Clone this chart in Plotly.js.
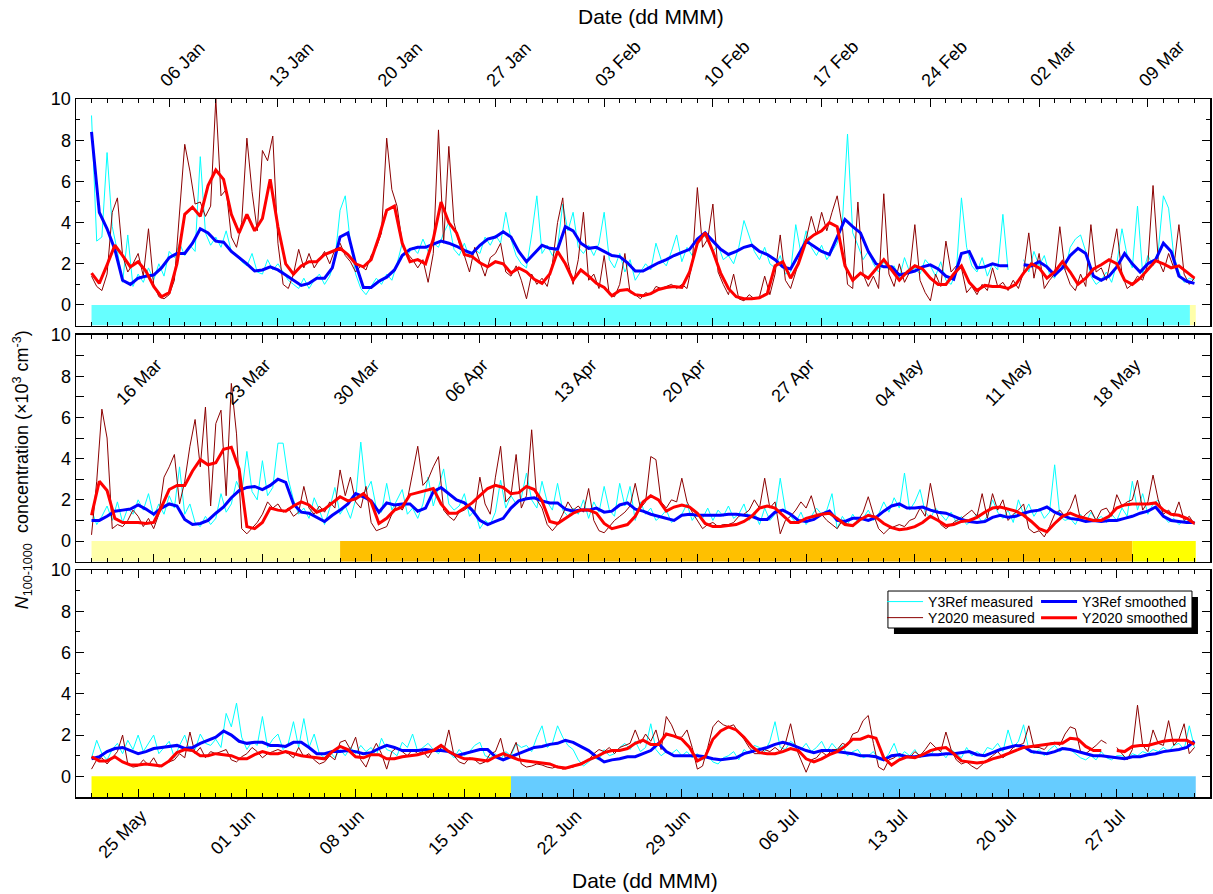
<!DOCTYPE html>
<html>
<head>
<meta charset="utf-8">
<script src="https://cdn.plot.ly/plotly-3.0.1.min.js"></script>
<style>body{margin:0;background:#fff}#chart{width:1213px;height:894px}</style>
</head>
<body>
<div id="chart"></div>
<script>
// ---------------- DATA ----------------
const panelStarts = ['2020-01-01', '2020-03-12', '2020-05-22'];
const tickStarts = ['2020-01-06', '2020-03-16', '2020-05-25'];
const measuredStepHours = 8;
const smoothedStepHours = 12;
const seriesNames = ['Y3Ref measured', 'Y2020 measured', 'Y3Ref smoothed', 'Y2020 smoothed'];

// Panel 1 (01 Jan - 12 Mar), values in 10^3 cm^-3
const p1RefMeasured = [
9.2,3.1,3.3, 7.4,3.8,2.6, 1.1,3.4,0.9, 1.5,1.1,1.8, 1.2,2.0,1.4,
2.6,2.3,3.0, 2.4,2.9,2.6, 7.2,3.5,2.9, 3.3,2.8,3.6, 2.6,2.4,2.1,
1.9,2.5,1.6, 1.5,2.2,1.7, 2.0,1.6,1.2, 1.0,0.8,1.3, 0.8,1.2,1.5,
1.0,1.4,2.2, 4.6,5.3,3.0, 1.5,0.8,0.5, 0.9,1.3,1.0, 1.5,1.2,2.0,
3.0,2.4,2.8, 2.5,3.2,2.6, 3.0,2.8,3.5, 4.0,2.7,2.4, 3.0,2.3,2.7,
2.5,3.3,2.9, 3.4,3.0,4.5, 3.2,2.4,2.0, 1.8,3.4,5.3, 2.5,2.9,2.4,
2.8,4.9,3.6, 4.5,2.8,2.5, 2.9,2.4,3.0, 4.5,2.2,1.8, 2.5,1.6,2.2,
1.2,1.6,2.0, 1.7,3.0,2.2, 1.9,2.6,3.4, 2.1,2.8,2.4, 3.0,3.4,3.2,
2.6,2.9,2.2, 2.4,2.0,2.8, 4.1,3.3,2.6, 2.2,2.8,2.0, 1.8,2.4,1.5,
1.6,3.9,2.5, 3.6,2.8,2.4, 2.9,2.2,2.6, 3.0,4.0,8.3, 3.5,2.9,2.2,
2.6,2.0,1.6, 2.1,1.7,1.9, 1.3,2.3,1.6, 1.8,1.5,2.2, 1.9,1.4,2.1,
1.2,1.0,1.6, 5.2,2.8,1.9, 1.6,2.3,1.4, 2.0,1.7,4.4, 1.7,null,null,
2.2,1.6,2.6, 1.9,2.4,1.5, 1.3,2.0,1.7, 2.8,3.2,3.4, 2.6,1.4,1.0,
1.2,1.6,1.1, 2.0,3.7,2.4, 1.8,4.8,1.5, 2.4,1.9,2.6, 5.3,4.7,2.4,
1.6,1.1,1.3, 1.2];
const p1Y2020Measured = [
1.4,0.9,0.7, 1.5,4.5,5.2, 2.4,1.6,2.0, 2.5,1.4,3.7, 1.0,0.4,0.3,
0.5,1.2,4.3, 7.8,6.5,4.9, 5.0,4.3,4.8, 10.0,5.3,5.6, 3.3,2.8,4.0,
8.1,5.5,3.6, 7.5,7.0,8.2, 3.0,1.0,0.8, 1.5,2.7,1.8, 2.5,1.8,2.2,
2.6,2.0,2.7, 3.0,2.4,2.1, 1.6,1.9,1.7, 2.4,2.8,3.5, 8.1,5.6,4.8,
3.0,2.5,2.2, 1.8,2.2,1.1, 2.5,8.5,3.0, 7.7,4.0,3.0, 2.4,1.6,2.8,
2.1,1.4,2.3, 2.5,3.0,1.6, 1.4,1.9,1.2, 0.3,1.5,1.0, 1.3,0.9,2.0,
4.0,5.2,2.1, 1.0,2.2,4.5, 1.2,1.5,0.8, 2.4,0.5,0.4, 1.0,2.5,0.6,
0.5,0.3,0.6, 0.5,0.9,0.8, 0.9,1.0,0.8, 1.0,0.8,2.0, 5.7,2.8,3.2,
4.9,1.6,1.0, 0.5,1.5,0.3, 0.2,0.5,0.3, 0.4,1.4,0.5, 1.5,3.4,1.2,
0.8,1.6,2.6, 3.2,4.3,3.4, 4.5,3.6,4.5, 5.3,3.8,1.0, 0.8,5.0,1.5,
0.9,1.4,0.8, 5.4,1.5,0.9, 2.0,1.1,1.6, 3.9,1.2,0.6, 0.2,1.5,0.9,
3.1,1.6,1.9, 1.8,0.6,0.9, 0.5,1.0,0.7, 1.8,0.9,1.1, 0.7,1.2,0.8,
1.6,3.5,1.3, 2.5,0.8,1.2, 1.5,3.8,1.7, 1.0,0.7,1.5, 0.9,3.9,1.6,
1.8,1.2,2.4, 3.7,1.5,0.8, 1.0,1.4,1.2, 2.0,5.8,2.2, 1.6,2.5,1.8,
3.9,1.5,1.0, 1.3];
const p1RefSmoothed = [
8.4,4.5,3.7,2.7,1.2,1.0,1.3,1.4,1.45,1.8,
2.3,2.5,2.5,3.0,3.7,3.5,3.1,3.05,2.6,2.3,
2.0,1.65,1.7,1.85,1.7,1.45,1.2,0.95,1.05,1.3,
1.3,1.8,3.3,3.5,2.0,0.85,0.85,1.15,1.35,1.7,
2.4,2.7,2.8,2.8,2.95,3.1,3.0,2.85,2.65,2.5,
2.9,3.2,3.3,3.55,3.3,2.6,2.1,2.5,2.9,2.75,
2.7,3.8,3.6,3.0,2.75,2.8,2.6,2.4,2.35,2.05,
1.65,1.65,1.85,2.05,2.2,2.4,2.55,2.7,3.2,3.5,
3.1,2.7,2.45,2.6,2.8,2.9,2.6,2.45,2.2,1.85,
1.75,2.4,3.1,2.85,2.6,2.45,3.3,4.15,3.8,3.5,
2.6,2.0,1.85,1.85,1.45,1.55,1.65,1.85,1.95,1.75,
1.4,1.25,2.5,2.6,1.8,1.85,2.0,1.9,1.9,null,
1.95,1.9,2.1,1.85,1.45,1.8,2.4,2.75,2.5,1.4,
1.2,1.4,1.85,2.5,2.0,1.6,2.0,2.2,3.0,2.6,
1.4,1.15,1.05];
const p1Y2020Smoothed = [
1.55,1.05,1.95,2.9,2.4,1.85,2.1,1.65,0.9,0.4,
0.6,2.0,4.4,4.75,4.3,5.8,6.55,6.1,4.4,3.5,
4.4,3.6,4.2,6.1,3.8,2.0,1.5,1.9,2.1,2.1,
2.45,2.6,2.75,2.45,2.0,1.85,2.2,3.3,4.6,4.8,
3.0,2.1,2.2,2.0,3.2,5.0,4.0,3.5,2.45,2.35,
2.05,1.85,2.1,2.0,1.55,1.8,1.6,1.25,1.05,1.5,
2.6,2.0,1.2,1.7,1.4,1.05,0.85,0.45,0.7,0.75,
0.5,0.45,0.55,0.75,0.85,0.9,0.85,1.6,3.0,3.5,
2.6,1.55,0.8,0.4,0.3,0.3,0.35,0.55,1.9,2.1,
1.3,2.0,3.1,3.4,3.6,4.0,3.8,1.9,1.2,1.55,
1.3,1.75,2.2,1.7,1.2,1.6,1.9,1.75,1.3,1.0,
1.0,1.5,1.9,1.1,0.7,0.95,0.9,0.9,0.8,1.0,
1.55,2.0,1.8,1.3,1.6,2.1,1.6,1.0,1.3,1.75,
1.95,2.2,2.0,1.2,1.0,1.3,1.75,2.15,2.0,1.8,
1.9,1.6,1.3];

// Panel 2 (12 Mar - 22 May)
const p2RefMeasured = [
1.5,0.8,1.2, 1.7,1.0,1.9, 0.9,1.6,1.3, 2.0,1.5,2.3, 1.2,1.8,1.3,
2.2,1.6,3.6, 1.3,1.8,0.9, 0.7,1.2,0.8, 1.1,2.3,1.4, 1.8,2.9,2.3,
4.35,2.4,2.0, 3.9,2.2,2.6, 4.75,4.75,3.0, 2.0,1.3,1.6, 1.1,2.1,1.5,
0.8,1.6,2.6, 1.3,1.7,1.1, 2.0,4.8,2.4, 2.9,1.6,1.4, 2.8,1.5,2.0,
2.5,1.3,1.6, 1.1,1.8,3.1, 1.7,2.6,3.5, 1.8,1.5,1.7, 2.3,1.2,1.5,
0.6,1.0,0.8, 1.4,2.95,1.6, 2.2,1.8,2.1, 3.3,2.0,1.6, 2.9,1.9,1.5,
2.8,1.5,1.2, 1.6,1.3,2.0, 1.1,1.9,1.4, 2.65,1.5,1.2, 2.8,1.7,2.65,
1.0,1.9,1.3, 1.6,1.0,1.2, 1.5,0.9,1.1, 1.3,1.8,1.0, 1.4,1.1,1.6,
1.0,1.5,1.2, 1.7,1.1,1.3, 1.8,1.0,1.4, 0.8,1.6,1.0, 1.3,3.05,1.5,
1.2,0.9,1.4, 0.8,1.2,1.6, 1.3,1.5,2.3, 0.6,1.2,0.8, 1.3,0.9,1.1,
1.5,1.0,1.3, 1.9,1.4,2.1, 1.6,3.3,1.5, 1.9,2.5,1.4, 1.1,1.6,1.3,
1.0,1.4,0.9, 1.2,0.8,1.0, 1.3,0.9,1.2, 2.0,1.4,1.1, 1.5,0.9,2.0,
1.3,1.8,1.2, 1.6,1.1,1.4, 3.7,1.2,1.0, 1.1,0.8,1.3, 0.9,1.4,1.0,
1.2,0.9,1.3, 1.0,1.6,1.2, 2.9,1.5,2.3, 1.3,1.8,2.0, 1.2,0.9,1.1,
0.8,1.0,0.9, 0.9];
const p2Y2020Measured = [
0.3,2.9,6.4, 5.0,0.6,0.8, 0.7,1.0,1.5, 1.2,0.7,1.1, 0.6,1.3,3.1,
3.6,4.2,1.8, 2.9,4.6,5.9, 3.6,6.5,1.7, 5.7,6.35,2.2, 7.65,5.2,0.6,
0.35,0.6,0.9, 1.3,1.9,1.6, 1.8,1.4,1.6, 1.2,1.4,2.65, 1.6,1.3,1.7,
1.4,1.9,1.6, 3.45,2.2,3.1, 1.9,1.6,2.65, 0.9,0.5,0.6, 0.7,1.3,1.8,
1.5,2.0,3.3, 4.6,2.7,3.0, 3.6,4.1,1.5, 1.2,1.0,1.4, 1.5,1.7,1.4,
3.1,1.8,1.3, 3.1,4.6,1.9, 2.2,4.2,1.6, 2.2,5.4,2.0, 1.6,0.8,0.5,
0.8,1.3,1.9, 1.5,1.7,1.4, 2.55,1.0,0.5, 0.4,0.7,1.0, 1.2,1.4,1.7,
2.8,1.6,1.9, 4.1,3.95,1.9, 1.6,2.0,1.9, 3.05,1.9,1.4, 1.0,0.6,0.8,
0.9,0.7,0.8, 0.8,0.9,1.2, 1.3,1.5,2.0, 1.6,3.05,1.6, 1.9,0.35,1.0,
1.2,1.5,1.9, 1.6,2.2,1.3, 1.3,1.0,0.8, 0.6,1.0,0.8, 0.7,1.0,1.4,
2.15,1.3,0.6, 0.35,0.6,0.7, 0.8,0.7,1.0, 1.1,1.6,1.2, 2.8,1.5,0.8,
0.6,0.8,1.0, 1.1,1.3,1.5, 1.2,2.3,1.1, 2.3,1.5,2.0, 1.0,1.3,1.5,
1.8,0.6,0.4, 0.5,0.2,0.7, 1.3,1.5,1.2, 1.6,2.25,1.0, 1.3,1.5,1.0,
1.5,1.6,1.2, 2.25,1.7,1.9, 2.0,2.95,1.5, 1.9,3.2,2.0, 1.3,1.5,1.2,
1.9,1.0,1.2, 0.8];
const p2RefSmoothed = [
1.0,1.0,1.2,1.45,1.5,1.55,1.75,1.55,1.3,1.6,
1.8,1.7,1.05,0.8,0.85,1.0,1.35,1.65,2.1,2.45,
2.6,2.65,2.5,2.7,3.0,2.85,1.8,1.4,1.35,1.15,
0.95,1.25,1.5,1.8,2.3,2.15,1.95,1.4,1.85,1.75,
1.8,1.8,1.45,1.6,2.4,2.6,2.3,2.0,1.85,1.5,
1.0,0.8,0.95,1.1,1.6,1.95,2.05,2.1,1.95,1.85,
1.85,1.55,1.45,1.5,1.5,1.6,1.4,1.45,1.75,1.85,
1.55,1.45,1.3,1.2,1.1,1.0,1.25,1.3,1.25,1.25,
1.25,1.25,1.3,1.3,1.25,1.2,1.05,1.05,1.4,1.5,
1.3,1.0,0.95,1.05,1.3,1.45,1.0,0.95,1.1,1.1,
1.0,1.15,1.45,1.7,1.8,1.6,1.6,1.65,1.5,1.4,
1.35,1.2,1.05,0.95,0.9,0.95,1.15,1.25,1.15,1.2,
1.35,1.45,1.5,1.65,1.4,1.25,1.1,1.05,0.95,1.0,
0.95,1.0,1.0,1.1,1.2,1.35,1.45,1.65,1.2,1.0,
0.95,0.9,0.9];
const p2Y2020Smoothed = [
1.25,2.9,2.45,1.1,0.9,0.9,0.9,0.85,0.9,1.65,
2.5,2.7,2.7,3.4,3.95,3.7,3.8,4.45,4.55,3.5,
0.7,0.6,0.9,1.6,1.5,1.45,1.7,1.9,1.75,1.4,
1.55,1.85,2.15,1.95,2.05,2.3,1.9,0.85,1.1,1.5,
1.65,2.25,2.35,2.45,2.55,1.8,1.35,1.35,1.6,1.85,
2.2,2.55,2.7,2.6,2.3,2.35,2.65,2.5,1.95,0.95,
0.85,1.1,1.35,1.5,1.5,1.35,0.85,0.6,0.7,0.8,
1.2,1.9,2.2,2.0,1.45,1.65,1.75,1.65,1.35,0.85,
0.7,0.7,0.75,0.8,0.95,1.2,1.6,1.7,1.6,1.25,
0.9,0.9,1.1,1.2,1.3,1.35,1.1,0.8,0.75,1.05,
1.25,1.15,0.85,0.65,0.55,0.6,0.7,0.9,1.2,1.0,
0.75,0.8,0.95,1.0,1.15,1.4,1.6,1.65,1.55,1.45,
1.25,0.95,0.6,0.45,0.85,1.2,1.35,1.2,1.1,1.0,
1.0,1.2,1.6,1.75,1.8,1.8,1.8,1.85,1.5,1.3,
1.25,1.1,0.85];

// Panel 3 (22 May - 01 Aug)
const p3RefMeasured = [
0.9,1.75,1.1, 0.8,1.3,1.6, 1.1,1.75,1.3, 2.0,1.2,1.6, 2.0,1.1,1.4,
1.7,0.9,1.5, 2.0,1.2,1.3, 2.05,1.6,1.5, 1.8,1.4,3.05, 2.4,3.55,1.9,
1.3,1.7,1.5, 2.9,1.4,1.8, 2.05,1.3,1.6, 2.65,1.4,2.8, 1.4,2.05,1.1,
0.9,1.2,0.9, 1.3,1.0,1.4, 1.1,1.5,1.2, 1.4,1.0,1.85, 1.3,1.2,1.0,
1.65,1.4,2.05, 1.2,1.4,1.6, 1.3,1.1,1.5, 1.2,0.9,1.3, 1.0,1.2,1.5,
1.65,1.0,0.9, 1.1,0.8,1.2, 1.0,1.6,1.4, 1.5,1.2,1.9, 2.45,1.4,1.6,
2.45,1.9,1.5, 1.3,0.8,0.5, 0.7,0.9,0.8, 1.3,1.0,1.1, 1.4,1.6,1.3,
1.7,1.2,1.4, 2.55,1.3,1.0, 1.2,1.1,1.3, 1.0,1.2,0.9, 1.1,0.8,1.0,
0.7,0.6,0.9, 1.0,1.2,0.8, 1.3,1.1,1.5, 1.4,1.2,1.7, 2.65,1.4,1.3,
1.7,1.5,1.3, 1.6,1.2,1.4, 1.7,1.2,1.6, 1.3,1.5,1.0, 1.2,1.3,0.9,
1.0,1.2,0.8, 0.8,1.1,1.6, 0.9,1.2,1.0, 1.3,0.9,1.1, 1.0,1.4,1.2,
0.9,1.3,1.1, 0.9,1.4,1.0, 1.2,1.0,1.4, 1.3,1.6,1.2, 2.25,1.4,1.7,
2.5,1.3,1.1, 1.3,1.0,1.3, 1.5,1.2,1.4, 1.3,1.1,0.9, 0.8,1.0,0.8,
1.2,0.9,0.8, 1.0,1.0,0.9, 1.1,1.0,1.2, 1.1,1.3,1.2, 1.4,1.2,1.5,
1.6,1.3,2.45, 1.4];
const p3Y2020Measured = [
0.35,0.8,0.9, 0.6,0.9,1.2, 2.0,0.6,0.45, 0.5,0.8,0.55, 0.9,0.45,0.6,
0.7,0.8,1.1, 0.9,2.15,1.1, 1.4,0.9,1.2, 1.1,1.2,1.3, 0.8,0.7,0.95,
1.1,1.4,1.2, 0.9,1.1,1.2, 1.3,1.2,1.1, 0.9,1.4,0.95, 1.1,0.8,0.6,
0.7,1.0,0.8, 1.65,1.75,1.3, 1.9,0.8,0.45, 1.1,1.6,1.1, 0.35,1.2,1.4,
1.2,1.0,1.3, 1.1,1.2,0.9, 1.3,1.45,1.2, 2.25,1.0,0.7, 0.6,0.9,0.8,
0.6,0.7,1.1, 1.2,1.85,0.8, 1.1,1.65,0.6, 0.45,0.5,0.6, 0.55,0.45,0.4,
0.5,0.35,0.4, 0.45,0.6,0.7, 0.8,1.1,1.3, 1.2,1.4,1.1, 1.4,1.5,1.6,
2.25,1.6,2.05, 1.7,2.25,1.3, 2.9,2.5,1.9, 1.9,2.25,1.4, 0.35,0.5,1.4,
2.4,2.7,2.5, 2.4,2.5,2.1, 1.8,1.4,1.1, 1.1,1.3,1.2, 1.4,1.2,1.6,
2.55,1.4,0.8, 0.2,0.8,0.9, 1.2,1.0,1.3, 1.3,1.6,1.5, 2.05,2.15,2.7,
2.95,1.6,0.45, 0.3,0.8,0.9, 1.1,1.0,0.9, 1.2,1.0,1.3, 1.65,1.4,1.2,
2.15,1.3,0.8, 0.6,0.7,0.5, 0.35,0.6,0.8, 1.0,1.2,0.9, 1.1,1.4,1.5,
1.6,2.45,1.4, 1.4,1.3,1.6, 1.65,1.5,2.05, 2.4,2.3,1.2, 1.1,1.3,1.5,
1.75,1.6,null, 1.4,1.1,0.8, 1.3,3.45,1.5, 1.2,2.25,1.6, 1.5,2.7,1.5,
1.8,2.55,1.1, 1.4];
const p3RefSmoothed = [
0.85,0.95,1.2,1.35,1.4,1.25,1.1,1.2,1.35,1.4,
1.45,1.5,1.35,1.4,1.6,1.75,1.9,2.2,2.0,1.7,
1.6,1.65,1.65,1.5,1.5,1.45,1.65,1.65,1.4,1.1,
1.1,1.2,1.2,1.25,1.2,1.1,1.15,1.35,1.5,1.4,
1.25,1.25,1.25,1.3,1.25,1.25,1.2,1.0,1.1,1.2,
1.3,1.3,0.95,0.8,0.95,1.1,1.25,1.4,1.45,1.55,
1.6,1.75,1.65,1.45,1.25,0.95,0.7,0.8,0.85,0.95,
0.95,1.1,1.25,1.6,1.2,1.0,1.0,1.0,1.0,0.95,
0.85,0.8,0.85,0.9,1.1,1.2,1.3,1.4,1.55,1.65,
1.55,1.4,1.25,1.15,1.25,1.25,1.2,1.15,1.1,1.0,
1.0,0.95,0.8,1.0,1.05,0.95,0.95,1.0,1.05,1.05,
1.1,1.1,1.15,1.2,1.05,1.0,1.15,1.3,1.4,1.5,
1.45,1.2,1.15,1.1,1.2,1.35,1.3,1.2,1.1,1.0,
1.0,0.95,0.9,0.85,0.95,0.95,1.05,1.1,1.2,1.25,
1.3,1.4,1.7];
const p3Y2020Smoothed = [
0.95,0.75,0.75,0.95,0.7,0.55,0.55,0.6,0.55,0.5,
0.75,1.15,1.3,1.25,1.0,1.0,1.1,1.05,1.0,0.85,
0.85,1.05,1.2,1.1,1.1,1.2,1.1,1.0,0.95,0.9,
0.85,1.2,1.45,1.3,0.95,0.9,1.05,1.05,0.85,0.85,
0.95,1.0,1.05,1.15,1.25,1.5,1.2,1.0,0.85,0.85,
0.8,0.75,0.95,1.1,0.95,0.8,0.75,0.7,0.65,0.6,
0.45,0.4,0.5,0.6,0.8,0.95,1.15,1.25,1.25,1.35,
1.6,1.75,1.55,1.55,2.05,1.95,1.8,1.4,0.75,0.95,
1.8,2.2,2.4,2.25,1.9,1.45,1.15,1.1,1.1,1.2,
1.35,1.25,0.85,0.7,0.85,1.05,1.2,1.45,1.8,1.8,
1.95,1.85,0.9,0.55,0.8,0.95,0.9,1.05,1.25,1.35,
1.4,1.1,0.75,0.7,0.65,0.7,0.85,0.95,1.1,1.25,
1.4,1.45,1.5,1.55,1.6,1.6,1.85,1.8,1.45,1.25,
1.25,null,1.25,1.2,1.45,1.5,1.5,1.6,1.7,1.75,
1.75,1.75,1.55];

// Background period bars (drawn between 0 and -1)
const periodPanel = [1, 1, 2, 2, 2, 3, 3];
const periodStart = ['2020-01-01 00:00','2020-03-11 17:00','2020-03-12 00:00','2020-03-28 00:00','2020-05-18 00:00','2020-05-22 00:00','2020-06-18 00:00'];
const periodEnd   = ['2020-03-11 17:00','2020-03-12 02:00','2020-03-28 00:00','2020-05-18 00:00','2020-05-22 02:00','2020-06-18 00:00','2020-08-01 02:00'];
const periodPhase = [0, 1, 1, 2, 3, 3, 4];

// ---------------- STYLE ----------------
const FONT = 'Liberation Sans, Arial, sans-serif';
const DAY = 86400000;
const phaseColors = ['#66FFFF', '#FFFFAA', '#FFC000', '#FFFF00', '#66CCFF'];
const lineStyles = [
  {color: '#00FFFF', width: 1},
  {color: '#8B0000', width: 1},
  {color: '#0000FF', width: 3},
  {color: '#FF0000', width: 3}
];
const legendIds = ['legend', 'legend3', 'legend2', 'legend4'];
const yDomains = [[0.6754, 1], [0.3372, 0.6619], [0, 0.3252]];

function iso(ms) { return new Date(ms).toISOString().slice(0, 16).replace('T', ' '); }
function timeAxis(start, n, stepHours) {
  const t0 = Date.parse(start + 'T00:00:00Z');
  return Array.from({length: n}, (_, i) => iso(t0 + i * stepHours * 3600000));
}
function panelRange(start) {
  const t0 = Date.parse(start + 'T00:00:00Z');
  return [iso(t0 - DAY), iso(t0 + 72 * DAY)];
}

const panels = [
  [p1RefMeasured, p1Y2020Measured, p1RefSmoothed, p1Y2020Smoothed],
  [p2RefMeasured, p2Y2020Measured, p2RefSmoothed, p2Y2020Smoothed],
  [p3RefMeasured, p3Y2020Measured, p3RefSmoothed, p3Y2020Smoothed]
];

const traces = [];
panels.forEach((sets, p) => {
  const k = p + 1;
  sets.forEach((vals, s) => {
    const step = s < 2 ? measuredStepHours : smoothedStepHours;
    traces.push({
      type: 'scatter', mode: 'lines',
      x: timeAxis(panelStarts[p], vals.length, step), y: vals,
      xaxis: k === 1 ? 'x' : 'x' + k, yaxis: k === 1 ? 'y' : 'y' + k,
      name: seriesNames[s], line: lineStyles[s],
      legend: legendIds[s],
      showlegend: p === 2, hoverinfo: 'skip'
    });
  });
});
// helper trace for middle-panel label axis
traces.push({type: 'scatter', mode: 'lines', x: [panelStarts[1]], y: [null], xaxis: 'x4', yaxis: 'y2', showlegend: false, hoverinfo: 'skip'});

function xAxis(p, extra) {
  return Object.assign({
    type: 'date', range: panelRange(panelStarts[p]), domain: [0, 1],
    anchor: p === 0 ? 'y' : 'y' + (p + 1),
    showline: true, linecolor: '#000', linewidth: 1.5, mirror: 'allticks',
    ticks: 'inside', ticklen: 8, tickwidth: 1, tickcolor: '#000',
    tick0: tickStarts[p], dtick: 7 * DAY, tickformat: '%d %b', tickangle: -45,
    tickfont: {family: FONT, size: 18, color: '#000'},
    minor: {dtick: DAY, tick0: panelStarts[p], ticks: 'inside', ticklen: 4, tickcolor: '#000'},
    showgrid: false, zeroline: false
  }, extra);
}
function yAxis(p) {
  return {
    domain: yDomains[p], anchor: p === 0 ? 'x' : 'x' + (p + 1), range: [-1, 10],
    tick0: 0, dtick: 2, showline: true, linecolor: '#000', linewidth: 1.5, mirror: 'allticks',
    ticks: 'inside', ticklen: 8, tickwidth: 1, tickcolor: '#000',
    minor: {dtick: 1, tick0: 0, ticks: 'inside', ticklen: 4, tickcolor: '#000'},
    tickfont: {family: FONT, size: 18, color: '#000'},
    showgrid: false, zeroline: false
  };
}

const shapes = periodPanel.map((pn, i) => ({
  type: 'rect', xref: pn === 1 ? 'x' : 'x' + pn, yref: pn === 1 ? 'y' : 'y' + pn,
  x0: periodStart[i], x1: periodEnd[i], y0: -1, y1: 0,
  fillcolor: phaseColors[periodPhase[i]], line: {width: 0}, layer: 'below'
}));
// legend frame with drop shadow
shapes.push({type: 'rect', xref: 'paper', yref: 'paper', x0: 0.7213, x1: 0.9894, y0: 0.2335, y1: 0.2865,
  fillcolor: '#000', line: {width: 0}, layer: 'above'});
shapes.push({type: 'rect', xref: 'paper', yref: 'paper', x0: 0.7160, x1: 0.9841, y0: 0.2421, y1: 0.2951,
  fillcolor: '#fff', line: {color: '#000', width: 1}, layer: 'above'});

function legendAt(x, y) {
  return {x: x, y: y, xanchor: 'left', yanchor: 'middle', bgcolor: 'rgba(0,0,0,0)', borderwidth: 0,
    font: {family: FONT, size: 14, color: '#000'}, itemwidth: 36, tracegroupgap: 0};
}

const layout = {
  width: 1213, height: 894, autosize: false,
  margin: {l: 76, r: 3, t: 99, b: 97},
  paper_bgcolor: '#fff', plot_bgcolor: 'rgba(0,0,0,0)',
  font: {family: FONT, color: '#000'},
  showlegend: true, hovermode: false,
  xaxis: xAxis(0, {side: 'top', ticklabelshift: -8}),
  xaxis2: xAxis(1, {showticklabels: false}),
  xaxis3: xAxis(2, {side: 'bottom', ticklabelshift: 3}),
  xaxis4: {
    type: 'date', range: panelRange(panelStarts[1]), overlaying: 'x2', anchor: 'free', position: 0.6404,
    side: 'bottom', showline: false, ticks: '', tick0: tickStarts[1], dtick: 7 * DAY, ticklabelshift: 3,
    tickformat: '%d %b', tickangle: -45, tickfont: {family: FONT, size: 18, color: '#000'},
    showgrid: false, zeroline: false
  },
  yaxis: yAxis(0), yaxis2: yAxis(1), yaxis3: yAxis(2),
  shapes: shapes,
  legend: legendAt(0.7108, 0.2794),
  legend2: legendAt(0.8466, 0.2794),
  legend3: legendAt(0.7108, 0.2564),
  legend4: legendAt(0.8466, 0.2564),
  annotations: [
    {text: 'Date (dd MMM)', xref: 'paper', yref: 'paper', x: 0.507, y: 1.1175, showarrow: false,
     xanchor: 'center', yanchor: 'middle', font: {family: FONT, size: 21, color: '#000'}},
    {text: 'Date (dd MMM)', xref: 'paper', yref: 'paper', x: 0.5018, y: -0.1203, showarrow: false,
     xanchor: 'center', yanchor: 'middle', font: {family: FONT, size: 21, color: '#000'}},
    {text: '<i>N</i><sub>100-1000</sub>  concentration (×10<sup>3</sup> cm<sup>-3</sup>)', xref: 'paper', yref: 'paper',
     x: -0.0476, y: 0.468, textangle: -90, showarrow: false, xanchor: 'center', yanchor: 'middle',
     font: {family: FONT, size: 18, color: '#000'}}
  ]
};

Plotly.newPlot('chart', traces, layout, {staticPlot: true, displayModeBar: false});
</script>
</body>
</html>
